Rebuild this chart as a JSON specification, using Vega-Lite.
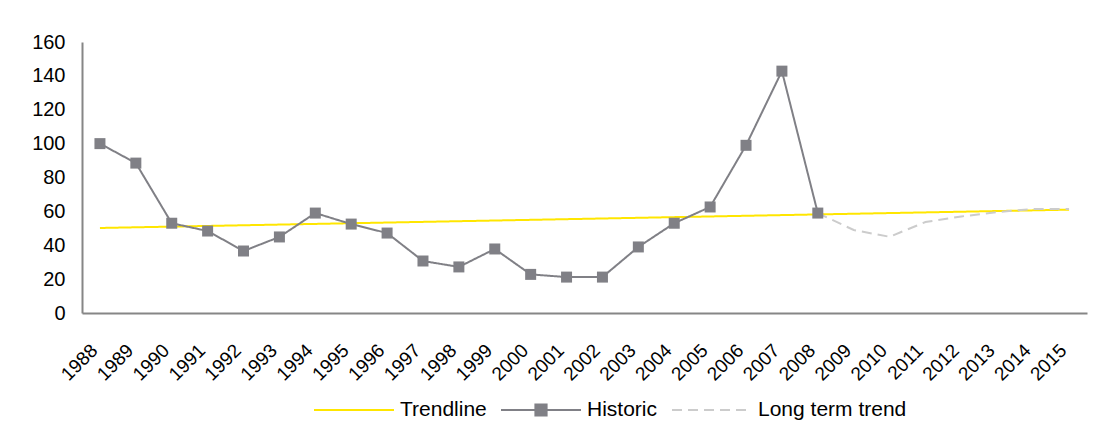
{
  "$schema": "https://vega.github.io/schema/vega-lite/v6.json",
  "width": 1005,
  "height": 271,
  "autosize": {"type": "none"},
  "padding": {"left": 82, "top": 42, "right": 18, "bottom": 132},
  "background": "white",
  "config": {
    "font": "Liberation Sans",
    "view": {"stroke": null},
    "axis": {"labelFont": "Liberation Sans", "labelColor": "#000000", "domainColor": "#868686", "domainWidth": 2, "ticks": false, "grid": false, "title": null}
  },
  "data": {
    "values": [
      {"year": "1988", "series": "Trendline", "value": 50.2},
      {"year": "1989", "series": "Trendline", "value": 50.6},
      {"year": "1990", "series": "Trendline", "value": 51.0},
      {"year": "1991", "series": "Trendline", "value": 51.4},
      {"year": "1992", "series": "Trendline", "value": 51.8},
      {"year": "1993", "series": "Trendline", "value": 52.2},
      {"year": "1994", "series": "Trendline", "value": 52.6},
      {"year": "1995", "series": "Trendline", "value": 53.0},
      {"year": "1996", "series": "Trendline", "value": 53.4},
      {"year": "1997", "series": "Trendline", "value": 53.8},
      {"year": "1998", "series": "Trendline", "value": 54.2},
      {"year": "1999", "series": "Trendline", "value": 54.6},
      {"year": "2000", "series": "Trendline", "value": 55.0},
      {"year": "2001", "series": "Trendline", "value": 55.4},
      {"year": "2002", "series": "Trendline", "value": 55.8},
      {"year": "2003", "series": "Trendline", "value": 56.2},
      {"year": "2004", "series": "Trendline", "value": 56.6},
      {"year": "2005", "series": "Trendline", "value": 57.0},
      {"year": "2006", "series": "Trendline", "value": 57.4},
      {"year": "2007", "series": "Trendline", "value": 57.8},
      {"year": "2008", "series": "Trendline", "value": 58.2},
      {"year": "2009", "series": "Trendline", "value": 58.6},
      {"year": "2010", "series": "Trendline", "value": 59.0},
      {"year": "2011", "series": "Trendline", "value": 59.4},
      {"year": "2012", "series": "Trendline", "value": 59.8},
      {"year": "2013", "series": "Trendline", "value": 60.2},
      {"year": "2014", "series": "Trendline", "value": 60.6},
      {"year": "2015", "series": "Trendline", "value": 61.0},
      {"year": "1988", "series": "Historic", "value": 100},
      {"year": "1989", "series": "Historic", "value": 88.5},
      {"year": "1990", "series": "Historic", "value": 53},
      {"year": "1991", "series": "Historic", "value": 48.4},
      {"year": "1992", "series": "Historic", "value": 36.6},
      {"year": "1993", "series": "Historic", "value": 44.9},
      {"year": "1994", "series": "Historic", "value": 59},
      {"year": "1995", "series": "Historic", "value": 52.5},
      {"year": "1996", "series": "Historic", "value": 47.2},
      {"year": "1997", "series": "Historic", "value": 30.7},
      {"year": "1998", "series": "Historic", "value": 27.2},
      {"year": "1999", "series": "Historic", "value": 37.8},
      {"year": "2000", "series": "Historic", "value": 22.8},
      {"year": "2001", "series": "Historic", "value": 21.2},
      {"year": "2002", "series": "Historic", "value": 21.2},
      {"year": "2003", "series": "Historic", "value": 39},
      {"year": "2004", "series": "Historic", "value": 53},
      {"year": "2005", "series": "Historic", "value": 62.6},
      {"year": "2006", "series": "Historic", "value": 99},
      {"year": "2007", "series": "Historic", "value": 142.8},
      {"year": "2008", "series": "Historic", "value": 59},
      {"year": "2008", "series": "Long term trend", "value": 59},
      {"year": "2009", "series": "Long term trend", "value": 49},
      {"year": "2010", "series": "Long term trend", "value": 45},
      {"year": "2011", "series": "Long term trend", "value": 53.7},
      {"year": "2012", "series": "Long term trend", "value": 57},
      {"year": "2013", "series": "Long term trend", "value": 59.6},
      {"year": "2014", "series": "Long term trend", "value": 61.4},
      {"year": "2015", "series": "Long term trend", "value": 61.4}
    ]
  },
  "encoding": {
    "x": {
      "field": "year",
      "type": "ordinal",
      "scale": {"type": "point", "padding": 0.5},
      "axis": {"labelAngle": -45, "labelAlign": "right", "labelBaseline": "middle", "labelFontSize": 19, "labelPadding": 34, "labelOffset": -6, "labelOverlap": false}
    },
    "y": {
      "field": "value",
      "type": "quantitative",
      "scale": {"domain": [0, 160], "nice": false},
      "axis": {"values": [0, 20, 40, 60, 80, 100, 120, 140, 160], "labelFontSize": 20, "labelPadding": 17}
    }
  },
  "layer": [
    {
      "transform": [{"filter": "datum.series === 'Trendline'"}],
      "mark": {"type": "line", "strokeWidth": 2},
      "encoding": {
        "color": {
          "field": "series", "type": "nominal",
          "scale": {"domain": ["Trendline", "Historic", "Long term trend"], "range": ["#FFE600", "#808086", "#CCCCCC"]},
          "legend": {
            "title": null, "orient": "none", "legendX": 231, "legendY": 327, "direction": "horizontal",
            "symbolSize": 6400, "symbolStrokeWidth": 2, "symbolType": "stroke",
            "labelFontSize": 21, "labelColor": "#000000", "labelOffset": 5, "columnPadding": 10, "padding": 0,
            "encode": {"symbols": {"update": {
              "shape": {"signal": "datum.value === 'Historic' ? 'M-1,0H1M-0.14,-0.14H0.14V0.14H-0.14Z' : 'stroke'"},
              "fill": {"signal": "datum.value === 'Historic' ? '#808086' : 'transparent'"}
            }}}
          }
        },
        "strokeDash": {
          "field": "series", "type": "nominal",
          "scale": {"domain": ["Trendline", "Historic", "Long term trend"], "range": [[1, 0], [1, 0], [10, 6]]}
        }
      }
    },
    {
      "transform": [{"filter": "datum.series === 'Long term trend'"}],
      "mark": {"type": "line", "strokeWidth": 2},
      "encoding": {
        "color": {"field": "series", "type": "nominal"},
        "strokeDash": {"field": "series", "type": "nominal"}
      }
    },
    {
      "transform": [{"filter": "datum.series === 'Historic'"}],
      "mark": {"type": "line", "strokeWidth": 2},
      "encoding": {
        "color": {"field": "series", "type": "nominal"},
        "strokeDash": {"field": "series", "type": "nominal"}
      }
    },
    {
      "transform": [{"filter": "datum.series === 'Historic'"}],
      "mark": {"type": "point", "shape": "square", "filled": true, "size": 121, "opacity": 1, "color": "#808086"},
      "encoding": {}
    }
  ]
}
